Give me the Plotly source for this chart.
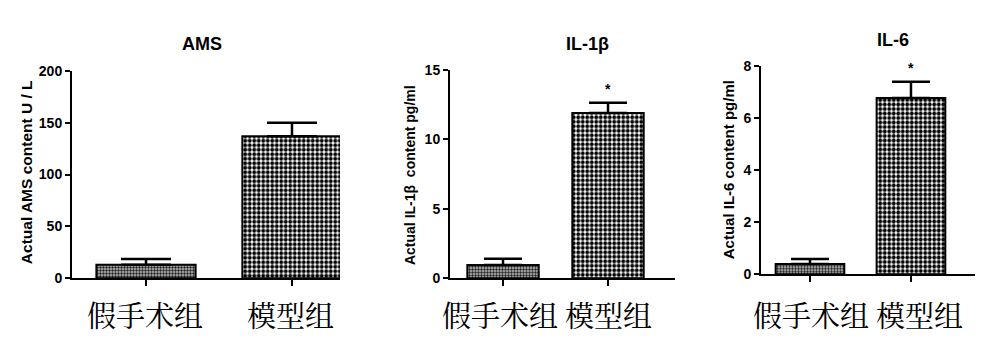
import plotly.graph_objects as go

# ---- data ----
categories = ["假手术组", "模型组"]
titles = ["AMS", "IL-1β", "IL-6"]
ytitles = ["Actual AMS content U / L", "Actual IL-1β  content pg/ml", "Actual IL-6 content pg/ml"]
ams_mean = [13, 137]
ams_err = [5.5, 13]
il1b_mean = [0.95, 11.9]
il1b_err = [0.45, 0.75]
il6_mean = [0.40, 6.78]
il6_err = [0.19, 0.62]
ams_ticks = [0, 50, 100, 150, 200]
il1b_ticks = [0, 5, 10, 15]
il6_ticks = [0, 2, 4, 6, 8]
sig_marks = [["", ""], ["", "*"], ["", "*"]]

W, H = 999, 352
AX_FONT = "Arial, Liberation Sans, sans-serif"
CJK_FONT = "Noto Serif CJK SC, Noto Sans CJK SC, sans-serif"

panels = [
    dict(mean=ams_mean, err=ams_err, ticks=ams_ticks, px=(72, 340), py=(283, 66),
         xr=[-0.507, 1.329], cap=25, title_xy=(202, 38), ytitle_xy=(26, 172), labx=[145, 290],
         yts=15.5),
    dict(mean=il1b_mean, err=il1b_err, ticks=il1b_ticks, px=(450, 675), py=(283, 65),
         xr=[-0.505, 1.638], cap=19, title_xy=(587, 38), ytitle_xy=(410, 175), labx=[500, 608],
         yts=14),
    dict(mean=il6_mean, err=il6_err, ticks=il6_ticks, px=(761, 975), py=(279, 61),
         xr=[-0.485, 1.634], cap=19, title_xy=(893, 33), ytitle_xy=(728, 170), labx=[811, 919],
         yts=15),
]

patterns = [
    dict(color="#c0c0c0", pattern=dict(shape=".", fgcolor="#222222", bgcolor="#c0c0c0",
                                       size=3, solidity=0.5, fillmode="replace")),
    dict(color="#ffffff", pattern=dict(shape=".", fgcolor="#000000", bgcolor="#ffffff",
                                       size=4.5, solidity=0.6, fillmode="replace")),
]

fig = go.Figure()
annotations = []
layout = {}
for i, p in enumerate(panels):
    n = "" if i == 0 else str(i + 1)
    xa, ya = "x" + n, "y" + n
    for j, c in enumerate(categories):
        fig.add_trace(go.Bar(
            x=[c], y=[p["mean"][j]], xaxis=xa, yaxis=ya, width=0.68,
            marker=dict(color=patterns[j]["color"], line=dict(color="black", width=2),
                        pattern=patterns[j]["pattern"]),
            error_y=dict(type="data", symmetric=False, array=[p["err"][j]], arrayminus=[0],
                         color="black", thickness=2.5, width=p["cap"]),
            showlegend=False, hoverinfo="skip",
        ))
    layout["xaxis" + n] = dict(
        domain=[p["px"][0] / W, p["px"][1] / W], anchor=ya, range=p["xr"],
        type="category", categoryorder="array", categoryarray=categories,
        showline=True, linecolor="black", linewidth=2,
        ticks="outside", ticklen=6, tickwidth=2, tickcolor="black",
        showticklabels=False, showgrid=False, zeroline=False, fixedrange=True,
    )
    layout["yaxis" + n] = dict(
        domain=[(H - p["py"][0]) / H, (H - p["py"][1]) / H], anchor=xa,
        range=[p["ticks"][0], p["ticks"][-1]], tickvals=p["ticks"],
        showline=True, linecolor="black", linewidth=2,
        ticks="outside", ticklen=5, tickwidth=2, tickcolor="black",
        tickfont=dict(family=AX_FONT, size=14, color="black", weight="bold"),
        showgrid=False, zeroline=False, fixedrange=True,
    )
    annotations.append(dict(text=titles[i], xref="paper", yref="paper",
                            x=p["title_xy"][0] / W, y=(H - p["title_xy"][1]) / H,
                            showarrow=False, xanchor="center", yanchor="middle",
                            font=dict(family=AX_FONT, size=18, color="black", weight="bold")))
    annotations.append(dict(text=ytitles[i], xref="paper", yref="paper",
                            x=p["ytitle_xy"][0] / W, y=(H - p["ytitle_xy"][1]) / H,
                            textangle=-90, showarrow=False, xanchor="center", yanchor="middle",
                            font=dict(family=AX_FONT, size=p["yts"], color="black", weight="bold")))
    for j, c in enumerate(categories):
        annotations.append(dict(text=c, xref="paper", yref="paper",
                                x=p["labx"][j] / W, y=(H - 321) / H,
                                showarrow=False, xanchor="center", yanchor="middle",
                                font=dict(family=CJK_FONT, size=29, color="black")))
        if sig_marks[i][j]:
            annotations.append(dict(text=sig_marks[i][j], xref=xa, yref=ya,
                                    x=c, y=p["mean"][j] + p["err"][j], yshift=14,
                                    showarrow=False, xanchor="center", yanchor="middle",
                                    font=dict(family=AX_FONT, size=14, color="black", weight="bold")))

fig.update_layout(
    width=W, height=H, margin=dict(l=0, r=0, t=0, b=0),
    paper_bgcolor="white", plot_bgcolor="white", barmode="overlay",
    annotations=annotations, **layout,
)
fig.write_html("out.html")
